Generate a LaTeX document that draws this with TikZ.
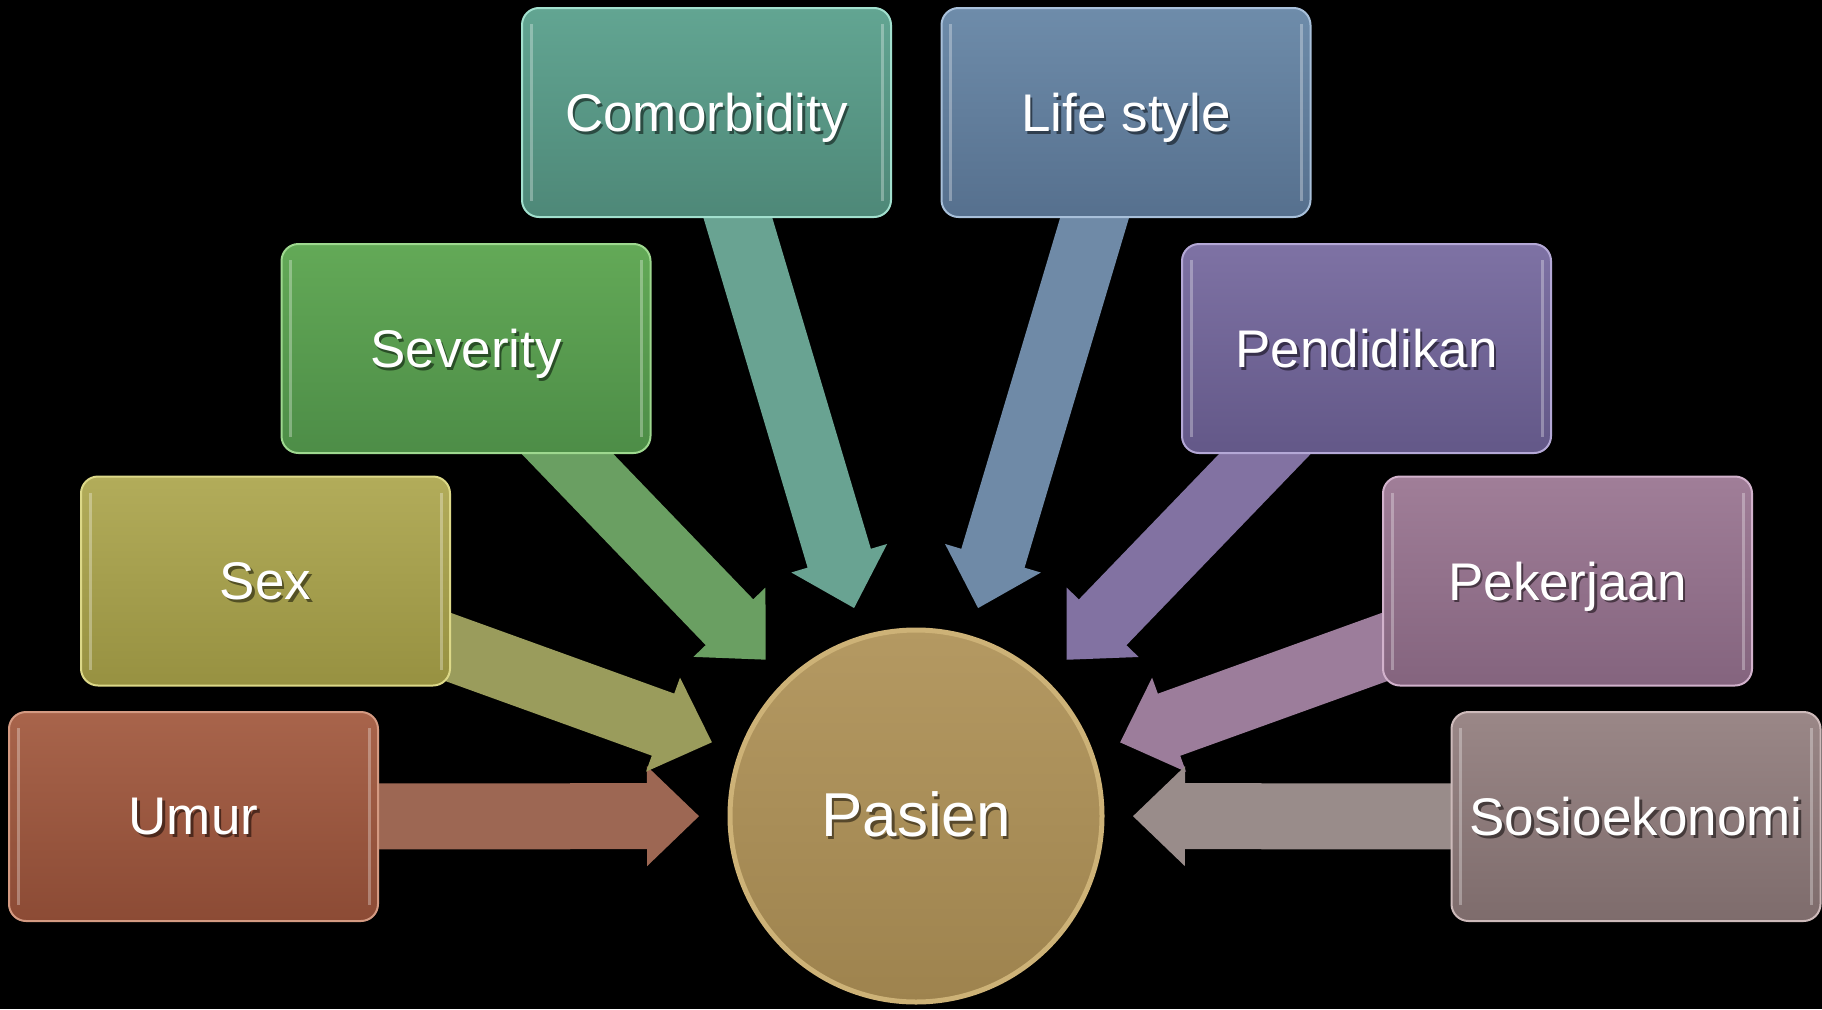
\documentclass[tikz,border=0pt]{standalone}
\usepackage{fontspec}
\setmainfont{Liberation Sans}
\usetikzlibrary{calc}

\pgfdeclarelayer{back}
\pgfsetlayers{back,main}

% box colours: top, bottom, rim, arrow
\definecolor{umurT}{HTML}{A8644B}\definecolor{umurB}{HTML}{8C4B35}\definecolor{umurL}{HTML}{D49A82}\definecolor{umurA}{HTML}{9D6753}
\definecolor{sexT}{HTML}{B2AC5A}\definecolor{sexB}{HTML}{979141}\definecolor{sexL}{HTML}{DCD888}\definecolor{sexA}{HTML}{9A9C5C}
\definecolor{sevT}{HTML}{63A957}\definecolor{sevB}{HTML}{4D8D47}\definecolor{sevL}{HTML}{9ED88F}\definecolor{sevA}{HTML}{6A9F62}
\definecolor{comT}{HTML}{62A592}\definecolor{comB}{HTML}{4E8878}\definecolor{comL}{HTML}{A2E0CE}\definecolor{comA}{HTML}{69A392}
\definecolor{lifT}{HTML}{6E8CAA}\definecolor{lifB}{HTML}{56708E}\definecolor{lifL}{HTML}{A8C0DA}\definecolor{lifA}{HTML}{6F8AA7}
\definecolor{penT}{HTML}{7E72A4}\definecolor{penB}{HTML}{635888}\definecolor{penL}{HTML}{B4A8D6}\definecolor{penA}{HTML}{8272A2}
\definecolor{pekT}{HTML}{A07E98}\definecolor{pekB}{HTML}{84647E}\definecolor{pekL}{HTML}{D2B2CC}\definecolor{pekA}{HTML}{9C7D9B}
\definecolor{sosT}{HTML}{9A8787}\definecolor{sosB}{HTML}{7E6C6C}\definecolor{sosL}{HTML}{CDBABA}\definecolor{sosA}{HTML}{998C8A}
\definecolor{pasT}{HTML}{B49962}\definecolor{pasB}{HTML}{9E834E}\definecolor{pasL}{HTML}{CDB277}

% white label with a soft dark drop shadow
\newcommand\shtxt[2]{\makebox[0pt][l]{\hspace{2.5pt}\raisebox{-2.5pt}{\textcolor{#1!55!black}{#2}}}#2}

% block arrow from a factor box towards the central circle
\newcommand\flow[2]{%
  \coordinate (T) at ($(pasien.center)!217pt!(#1.center)$);
  \coordinate (H) at ($(pasien.center)!269pt!(#1.center)$);
  \fill[#2] ($(#1.center)!33pt!-90:(pasien.center)$)
    -- ($(H)!33pt!90:(#1.center)$) -- ($(H)!50pt!90:(#1.center)$)
    -- (T)
    -- ($(H)!50pt!-90:(#1.center)$) -- ($(H)!33pt!-90:(#1.center)$)
    -- ($(#1.center)!33pt!90:(pasien.center)$) -- cycle;
}

\tikzset{
  factor/.style={rounded corners=17pt, minimum width=369pt, minimum height=209pt,
    inner sep=0pt, text=white, font=\fontsize{53}{60}\selectfont, line width=2pt,
    text depth=0pt,
    path picture={
      \draw[white, opacity=0.3, line width=3pt]
        ([xshift=9pt,yshift=-16pt]path picture bounding box.north west)
        -- ([xshift=9pt,yshift=16pt]path picture bounding box.south west);
      \draw[white, opacity=0.3, line width=3pt]
        ([xshift=-9pt,yshift=-16pt]path picture bounding box.north east)
        -- ([xshift=-9pt,yshift=16pt]path picture bounding box.south east);
    }},
  hub/.style={circle, minimum size=372pt, inner sep=0pt, text=white,
    font=\fontsize{62}{70}\selectfont, line width=5pt,
    top color=pasT, bottom color=pasB, draw=pasL}
}

\begin{document}
\begin{tikzpicture}[x=1pt,y=-1pt]
\begin{pgfonlayer}{back}
  \fill[black] (0,0) rectangle (1822,1009);
\end{pgfonlayer}
\useasboundingbox (0,0) rectangle (1822,1009);

\node[hub] (pasien) at (916,816) {\shtxt{pasB}{Pasien}};

\node[factor, top color=umurT, bottom color=umurB, draw=umurL] (umur) at (193.5,816.5) {\shtxt{umurB}{Umur}};
\node[factor, top color=sexT, bottom color=sexB, draw=sexL] (sex) at (265.5,581) {\shtxt{sexB}{Sex}};
\node[factor, top color=sevT, bottom color=sevB, draw=sevL] (severity) at (466,348.5) {\shtxt{sevB}{Severity}};
\node[factor, top color=comT, bottom color=comB, draw=comL] (comorb) at (706.5,112.5) {\shtxt{comB}{Comorbidity}};
\node[factor, top color=lifT, bottom color=lifB, draw=lifL] (life) at (1126,112.5) {\shtxt{lifB}{Life style}};
\node[factor, top color=penT, bottom color=penB, draw=penL] (pend) at (1366.5,348.5) {\shtxt{penB}{Pendidikan}};
\node[factor, top color=pekT, bottom color=pekB, draw=pekL] (pek) at (1567.5,581) {\shtxt{pekB}{Pekerjaan}};
\node[factor, top color=sosT, bottom color=sosB, draw=sosL] (sosio) at (1636,816.5) {\shtxt{sosB}{Sosioekonomi}};

\begin{pgfonlayer}{back}
  \flow{umur}{umurA}
  \flow{sex}{sexA}
  \flow{severity}{sevA}
  \flow{comorb}{comA}
  \flow{life}{lifA}
  \flow{pend}{penA}
  \flow{pek}{pekA}
  \flow{sosio}{sosA}
\end{pgfonlayer}
\end{tikzpicture}
\end{document}
